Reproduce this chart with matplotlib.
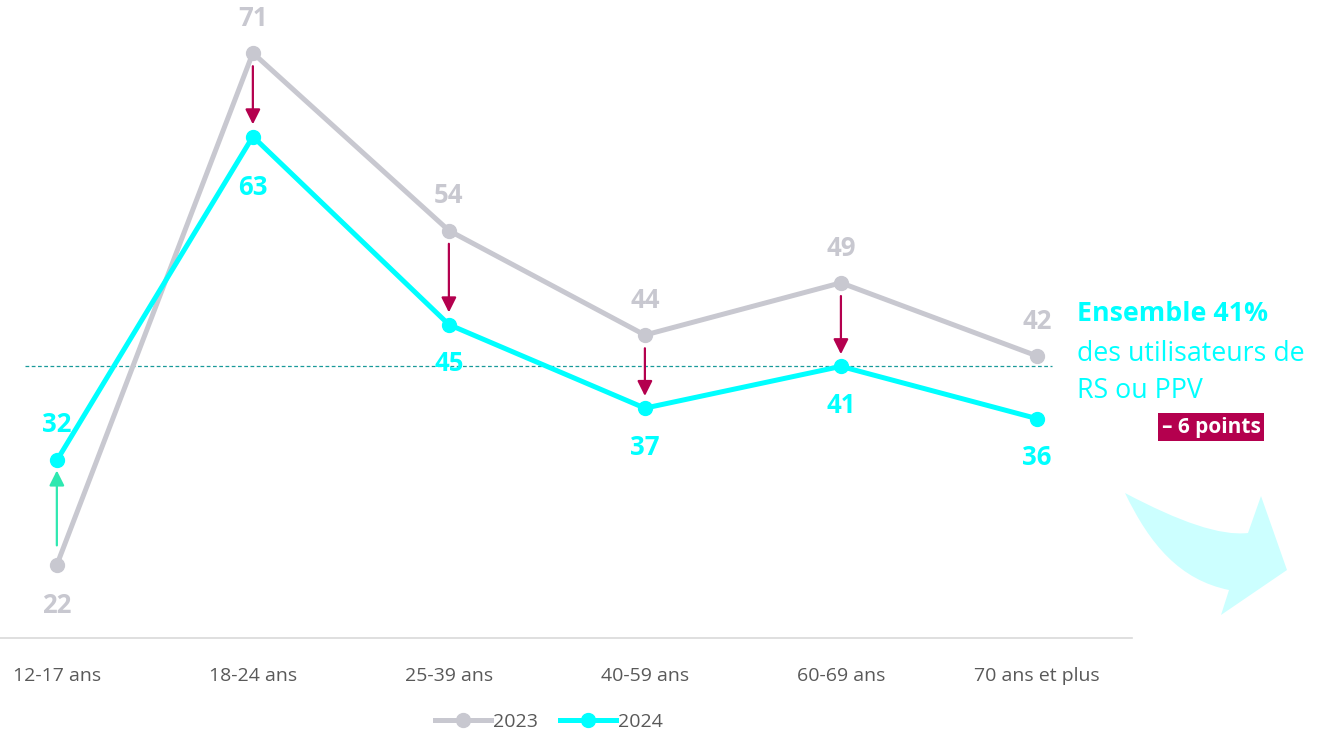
import numpy as np
import matplotlib
matplotlib.use("Agg")
import matplotlib.pyplot as plt
from matplotlib.path import Path
from matplotlib.patches import PathPatch

plt.rcParams['font.family'] = ['Open Sans', 'DejaVu Sans']

categories = ['12-17 ans', '18-24 ans', '25-39 ans', '40-59 ans', '60-69 ans', '70 ans et plus']
v2023 = [22, 71, 54, 44, 49, 42]
v2024 = [32, 63, 45, 37, 41, 36]
ensemble = 41
series_names = ['2023', '2024']

gray = '#c8c8d0'
cyan = '#00ffff'
crimson = '#b4004e'
mint = '#2ee8b0'
txt = '#595959'

W, H = 1317, 733
fig = plt.figure(figsize=(W / 100, H / 100), dpi=100)
ax = fig.add_axes([0, (H - 638) / H, 1132 / W, 638 / H])

x = np.arange(len(categories))
ax.plot(x, v2023, color=gray, lw=3.6, marker='o', ms=10, zorder=3, label=series_names[0])
ax.plot(x, v2024, color=cyan, lw=3.6, marker='o', ms=10, zorder=4, label=series_names[1])

ax.set_xlim(-0.29, 5.485)
ax.set_ylim(15, 76.07)

# moyenne ensemble
ax.plot([-0.163, 5.077], [ensemble, ensemble], ls=(0, (3, 2)), color='#1a9a9a', lw=0.9, zorder=2)

# etiquettes
lab_fs = 18.5
for i, (a, b) in enumerate(zip(v2023, v2024)):
    if a > b:
        dy = -37 if i == 1 else -28
        ax.annotate(str(a), (i, a), xytext=(0, 25), textcoords='offset points',
                    ha='center', va='center', color=gray, fontsize=lab_fs, fontweight='bold')
        ax.annotate(str(b), (i, b), xytext=(0, dy), textcoords='offset points',
                    ha='center', va='center', color=cyan, fontsize=lab_fs, fontweight='bold')
        if i < len(v2023) - 1:
            ax.annotate('', xy=(i, b + 0.9), xytext=(i, a - 1.0),
                        arrowprops=dict(arrowstyle='-|>,head_length=0.9,head_width=0.45',
                                        color=crimson, lw=1.6), zorder=5)
    else:
        ax.annotate(str(a), (i, a), xytext=(0, -29), textcoords='offset points',
                    ha='center', va='center', color=gray, fontsize=lab_fs, fontweight='bold')
        ax.annotate(str(b), (i, b), xytext=(0, 26), textcoords='offset points',
                    ha='center', va='center', color=cyan, fontsize=lab_fs, fontweight='bold')
        ax.annotate('', xy=(i, b - 0.7), xytext=(i, a + 1.6),
                    arrowprops=dict(arrowstyle='-|>,head_length=0.9,head_width=0.45',
                                    color=mint, lw=1.6), zorder=5)

ax.set_xticks(x)
ax.set_xticklabels(categories, fontsize=14, color=txt)
ax.tick_params(axis='x', length=0, pad=21)
ax.set_yticks([])
for s in ['top', 'left', 'right']:
    ax.spines[s].set_visible(False)
ax.spines['bottom'].set_color('#d9d9d9')
ax.spines['bottom'].set_linewidth(1.2)

fig.legend(loc='center', bbox_to_anchor=(549 / W, 1 - 722 / H), ncol=2, frameon=False,
           fontsize=14, labelcolor=txt, handlelength=2.9, handletextpad=0.1, columnspacing=1.1)

# texte a droite
fig.text(1077 / W, 1 - 314 / H, 'Ensemble 41%', color=cyan, fontsize=19.3,
         fontweight='bold', va='center', ha='left')
fig.text(1077 / W, 1 - 354 / H, 'des utilisateurs de', color=cyan, fontsize=19.3,
         va='center', ha='left')
fig.text(1077 / W, 1 - 391 / H, 'RS ou PPV', color=cyan, fontsize=19.3,
         va='center', ha='left')
fig.text(1211 / W, 1 - 427 / H, '– 6 points', color='white', fontsize=15,
         fontweight='bold', va='center', ha='center',
         bbox=dict(boxstyle='square,pad=0.15', fc=crimson, ec='none'))

# fleche decorative
def fp(px, py):
    return (px / W, 1 - py / H)

verts = [fp(1125, 493), fp(1180, 522), fp(1220, 536), fp(1248, 533),
         fp(1261, 496), fp(1287, 570), fp(1221, 615), fp(1229, 590),
         fp(1180, 580), fp(1150, 545), fp(1125, 493), fp(1125, 493)]
codes = [Path.MOVETO, Path.CURVE4, Path.CURVE4, Path.CURVE4,
         Path.LINETO, Path.LINETO, Path.LINETO, Path.LINETO,
         Path.CURVE4, Path.CURVE4, Path.CURVE4, Path.CLOSEPOLY]
fig.patches.append(PathPatch(Path(verts, codes), transform=fig.transFigure,
                             fc='#ccffff', ec='none'))

fig.savefig('out.png', dpi=100)
